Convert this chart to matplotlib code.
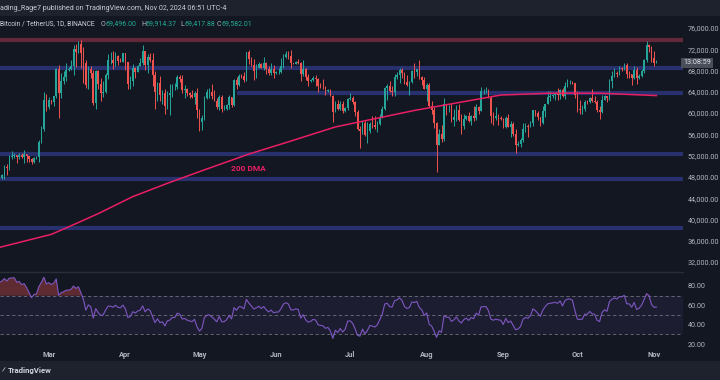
import matplotlib
matplotlib.use('Agg')
import matplotlib.pyplot as plt
import matplotlib.dates as mdates
import numpy as np
import pandas as pd

# ---------------- data ----------------
dates = pd.date_range('2024-02-10', '2024-11-02', freq='D')
first_open = 47130
closes = [
    # Feb 10-29
    47770,48290,49960,49700,51800,51900,52130,51660,52120,51780,52260,51850,51300,50730,51570,51730,54480,57040,62430,61130,
    # Mar
    62390,62030,63130,68240,63780,66070,66850,68170,68310,68930,72090,71450,73070,71390,69400,65300,68390,67600,61910,67910,65490,63780,64060,67230,69990,69990,69470,70780,69880,69630,71280,
    # Apr
    69650,65460,65960,68490,67820,68900,69360,71620,69140,70590,70060,67180,63920,65680,63420,63790,61290,63470,63820,64940,64940,66830,66410,64290,64500,63770,63460,63120,63840,60670,
    # May
    58250,59120,62890,63890,64030,63160,62330,61190,63070,60790,60820,61480,62940,61580,66270,65230,67050,66940,66280,71450,70140,69120,67930,68530,69290,68510,69400,68370,67630,68350,67490,
    # Jun
    67710,67750,68800,70560,71080,70790,69350,69310,69650,69510,67320,68240,66750,66010,66190,66640,66490,65160,64960,64830,64100,64260,63210,60280,61800,60860,61680,60320,60890,62680,
    # Jul
    62770,62020,60150,57040,56640,58230,55850,56700,58040,57720,57340,57890,59210,60790,64720,65040,64090,63970,66700,67150,68160,67540,65930,65370,65790,67910,67810,68250,66780,66190,64620,
    # Aug
    65360,61410,60680,58120,54020,56040,55130,61710,60880,60940,58710,59350,60600,58740,57560,58870,59490,58430,59490,59010,61160,60380,64090,64180,64250,62880,59500,59030,59390,59120,58970,
    # Sep
    57300,59130,57480,57970,56160,53960,54160,54870,57050,57640,57340,58130,60570,60000,59180,58210,60310,61760,62950,63190,63350,63580,63340,64260,63150,65170,65770,65860,65600,63330,
    # Oct
    60800,60650,60750,62090,62050,62820,62220,62130,60580,60270,62450,63200,62850,66080,67040,67610,67400,68420,68360,69000,67370,67360,66680,68160,66640,67010,67930,69910,72720,72340,70280,
    # Nov
    69496,69582,
]
highs = [
    48170,48590,50330,50370,52040,52820,52570,52200,52480,52490,52980,52380,52000,51520,51680,51950,54900,57580,63900,63680,
    63100,62430,63230,68500,69000,67600,67950,69350,68600,69900,72800,72950,73650,73780,72400,70000,68850,68950,68100,68100,68200,66650,65980,67600,71150,71560,71730,71550,70900,70300,71370,
    71300,69700,66900,69300,68700,69000,70300,72800,71750,71200,71250,71250,67900,65800,66900,64350,64500,64100,65500,65400,65700,67250,67200,67100,65300,64800,63900,64400,64200,64700,
    60800,59600,63300,64500,64650,65500,64400,62900,63400,63450,61500,61800,63450,63100,66450,66800,67450,67400,67700,71500,71950,70600,70100,69200,69550,69500,70600,69550,68900,69500,69000,
    67850,68400,70300,71100,71750,71600,71950,69500,69850,70150,69550,70000,68450,67300,66450,66950,67250,66550,65750,66500,65050,64550,64500,63350,62300,62450,62300,62200,61200,62900,
    63800,63300,62250,60500,57500,58450,58500,58250,58300,59450,59400,58500,59800,61400,64900,65400,66100,65100,67400,67650,68400,68450,67800,67100,66100,68200,69400,68300,70080,66950,66800,
    65600,65600,62200,61100,58300,57050,57700,62750,61750,61450,61850,60700,61600,61800,59850,59800,59650,60250,59600,61400,61800,61400,64950,64500,65000,64500,63200,60200,61150,59800,59450,
    59050,59400,59800,58500,58300,56950,54850,55300,58100,58050,57950,58600,60650,60600,60400,59200,61350,61800,64100,64100,63550,63950,64750,64500,64800,65850,66500,66250,66050,65650,
    64150,62400,61450,62450,62400,62990,64450,63200,62550,61300,63400,63450,63250,66500,67950,68400,67950,68950,68700,69400,69500,67850,67450,68850,68750,67450,68350,70250,73600,72950,72700,
    71600,69914,
]
lows = [
    46800,47540,47700,48300,49250,51300,51600,50620,51280,51540,50630,50800,50880,50520,50580,51280,50900,54450,56700,60360,
    60770,61650,61300,62900,59000,62850,65500,66000,67900,68100,67200,68600,71350,68550,65600,64800,64550,66600,61550,60780,64500,62300,63000,63800,66400,69300,68380,68900,69100,69550,69600,
    68100,64500,64500,65100,66600,67800,68800,69100,68200,67500,69600,65100,60700,62200,62300,61750,59800,60800,59600,63100,64300,64500,65800,63800,62800,63300,62800,62900,61800,59100,
    56550,56900,58800,62600,62900,62700,62200,60700,60600,60200,60500,60600,60750,61100,61350,64600,65100,66600,65850,66050,69150,68950,66300,66600,68500,68450,68200,67300,67100,67150,66650,
    67400,67300,67600,68550,70400,70100,68500,69150,69200,69200,66050,66900,66300,65050,65850,66050,65100,64050,64700,64500,63400,63950,63150,58400,60250,60650,60600,60000,60300,60650,
    62500,61800,59450,56800,53500,56000,55700,54300,56300,57150,57050,56500,57750,59150,60650,62400,63900,63250,63300,66450,65750,66600,65400,65100,63450,65750,66650,67050,66500,65300,64500,
    62300,61200,59850,57200,49000,53950,54550,54700,59600,60250,58400,57650,58500,58450,56100,57100,58800,58350,57850,58600,58800,59800,60350,63600,63800,62800,58100,57850,58750,57750,58750,
    57200,57150,57400,55600,55650,52550,53750,53650,54600,56400,55550,57300,57650,59450,58700,57500,57950,59200,61700,62350,62750,62400,62550,62700,62950,62650,64850,65450,65400,62850,
    60200,59850,59850,60450,61700,61850,62100,61850,60300,58900,60050,62450,62050,62450,64800,66750,66700,67100,68000,68100,66550,66550,65250,66500,65500,66450,66800,67550,69700,71400,69700,
    68800,69418,
]
# closes before the visible range (RSI warm-up, Jan 26 - Feb 9)
warmup_closes = [41820,42120,42030,43300,42940,42580,43080,43190,42990,42580,42660,43090,44340,45290,47130]

# 200-day moving average
dma_dates = ['2024-02-10','2024-03-02','2024-03-08','2024-03-21','2024-04-04','2024-04-18','2024-05-01',
             '2024-05-21','2024-06-06','2024-06-25','2024-07-27','2024-08-31','2024-09-20','2024-10-10',
             '2024-10-25','2024-11-02']
dma_values = [34750,37200,38400,41100,44300,46800,49000,52300,54600,57400,60500,63400,63750,63750,63450,63300]

# horizontal levels
red_level = 73750
blue_levels = [68550, 52300, 47700, 38450]
blue_partial_level = 63700
blue_partial_start = '2024-05-16'

price_ticks = [76000,72000,68000,64000,60000,56000,52000,48000,44000,40000,36000,32000]
rsi_ticks = [80,60,40,20]
month_ticks = ['2024-03-01','2024-04-01','2024-05-01','2024-06-01','2024-07-01','2024-08-01',
               '2024-09-01','2024-10-01','2024-11-01']
month_labels = ['Mar','Apr','May','Jun','Jul','Aug','Sep','Oct','Nov']

header1 = 'ading_Rage7 published on TradingView.com, Nov 02, 2024 06:51 UTC-4'
header2 = 'Bitcoin / TetherUS, 1D, BINANCE'
ohlc_labels = ['O', 'H', 'L', 'C']
ohlc_values = ['69,496.00', '69,914.37', '69,417.88', '69,582.01']

# ---------------- style ----------------
BG = '#131722'
BAR = '#1e222d'
TXT = '#b2b5be'
UP = '#26a69a'
DN = '#ef5350'
FONT = ['Roboto', 'DejaVu Sans']
plt.rcParams['font.family'] = FONT

W, H = 720, 380
fig = plt.figure(figsize=(7.2, 3.8), dpi=100, facecolor=BG)

def fy(py):
    return 1 - py / H

def fx(px):
    return px / W

main_top, main_bot = 16, 271
rsi_top, rsi_bot = 272, 348
pane_right = 683

ax = fig.add_axes([0, fy(main_bot), fx(pane_right), (main_bot - main_top) / H])
axr = fig.add_axes([0, fy(rsi_bot), fx(pane_right), (rsi_bot - rsi_top) / H], sharex=ax)
for a in (ax, axr):
    a.set_facecolor(BG)
    for s in a.spines.values():
        s.set_visible(False)

x = mdates.date2num(dates)
o = np.array([first_open] + closes[:-1], dtype=float)
c = np.array(closes, dtype=float)
h = np.array(highs, dtype=float)
l = np.array(lows, dtype=float)
up = c >= o
cols = np.where(up, UP, DN)

x0 = mdates.date2num(pd.Timestamp('2024-02-10'))
ax.set_xlim(x0 + 0.24, x0 + 276.77)
ax.set_ylim(30312, 78263)

# levels
ax.axhline(red_level, color='#62283a', lw=3.0, zorder=1)
for lv in blue_levels:
    ax.axhline(lv, color='#28316e', lw=3.0, zorder=1)
ax.hlines(blue_partial_level, mdates.date2num(pd.Timestamp(blue_partial_start)), x0 + 290,
          color='#28316e', lw=3.0, zorder=1)

# candles
ax.vlines(x, l, h, colors=cols, lw=0.7, zorder=3)
body_h = np.maximum(np.abs(c - o), 60)
ax.bar(x, body_h, bottom=np.minimum(o, c), width=0.62, color=cols, linewidth=0, zorder=4)

# 200 DMA
ax.plot(mdates.date2num(pd.to_datetime(dma_dates)), dma_values, color='#e91e63', lw=1.1, zorder=5)
ax.text(mdates.date2num(pd.Timestamp('2024-05-21')), 49650, '200 DMA', color='#e91e63',
        fontsize=6, fontweight='bold', ha='center', va='center', zorder=6)

# price scale
ax.yaxis.tick_right()
ax.set_yticks(price_ticks)
ax.set_yticklabels([f'{v:,.2f}' for v in price_ticks])
ax.tick_params(axis='y', length=0, pad=3.2, labelsize=5.2, colors=TXT)
ax.tick_params(axis='x', which='both', bottom=False, labelbottom=False)

# ---------------- RSI ----------------
allc = np.array(warmup_closes + closes, dtype=float)
d = np.diff(allc)
g = np.where(d > 0, d, 0.0)
ls = np.where(d < 0, -d, 0.0)
n = 14
ag = g[:n].mean()
al = ls[:n].mean()
rsi_all = [100 - 100 / (1 + ag / al)]
for i in range(n, len(d)):
    ag = (ag * (n - 1) + g[i]) / n
    al = (al * (n - 1) + ls[i]) / n
    rsi_all.append(100 - 100 / (1 + ag / al))
rsi = np.array(rsi_all[-len(closes):])

axr.set_ylim(15.87, 94.48)
axr.axhspan(30, 70, color='#7e57c2', alpha=0.10, lw=0, zorder=1)
for lv in (70, 50, 30):
    axr.axhline(lv, color='#787b86', lw=0.6, ls=(0, (4, 3)), alpha=0.9, zorder=2)
axr.fill_between(x, rsi, 70, where=rsi > 70, interpolate=True, color='#ef5350', alpha=0.35, lw=0, zorder=2)
axr.fill_between(x, rsi, 30, where=rsi < 30, interpolate=True, color='#26a69a', alpha=0.35, lw=0, zorder=2)
axr.plot(x, rsi, color='#7e57c2', lw=0.8, zorder=3)
axr.yaxis.tick_right()
axr.set_yticks(rsi_ticks)
axr.set_yticklabels([f'{v:.2f}' for v in rsi_ticks])
axr.tick_params(axis='y', length=0, pad=3.2, labelsize=5.2, colors=TXT)
axr.set_xticks(mdates.date2num(pd.to_datetime(month_ticks)))
axr.set_xticklabels(month_labels)
axr.tick_params(axis='x', length=0, pad=2.2, labelsize=5.4, colors=TXT)
for lab in axr.get_xticklabels():
    lab.set_fontweight('bold')

# pane separator
fig.add_artist(plt.Line2D([0, fx(pane_right)], [fy(271.5), fy(271.5)], color='#2a2e39', lw=1.0))

# header bar
fig.add_artist(plt.Rectangle((0, fy(16)), 1, 16 / H, transform=fig.transFigure, color=BAR, lw=0, zorder=0))
fig.text(fx(0.5), fy(8.5), header1, ha='left', va='center', fontsize=5.1, color='#c9ccd4')
fig.text(fx(0.5), fy(24), header2, ha='left', va='center', fontsize=4.8, color='#d1d4dc')
ohlc_x = [101, 141, 180, 217]
for px, lb, val in zip(ohlc_x, ohlc_labels, ohlc_values):
    fig.text(fx(px), fy(24), lb, ha='left', va='center', fontsize=5.0, color='#b2b5be')
    fig.text(fx(px + 5), fy(24), val, ha='left', va='center', fontsize=5.0, color='#22ab94')

# countdown label
fig.text(fx(697), fy(63), '13:08:59', ha='center', va='center', fontsize=5.2, color='#e0e3eb',
         bbox=dict(boxstyle='square,pad=0.25', fc='#4a4e5a', ec='none'))

# bottom bar
fig.add_artist(plt.Rectangle((0, 0), 1, 19 / H, transform=fig.transFigure, color=BAR, lw=0, zorder=0))
fig.text(fx(8), fy(370), 'TradingView', ha='left', va='center', fontsize=5.6, color='#d1d4dc', fontweight='bold')
fig.text(fx(2), fy(370), '⁄', ha='left', va='center', fontsize=6, color='#d1d4dc', fontweight='bold')

fig.savefig('out.png', dpi=100, facecolor=BG)
